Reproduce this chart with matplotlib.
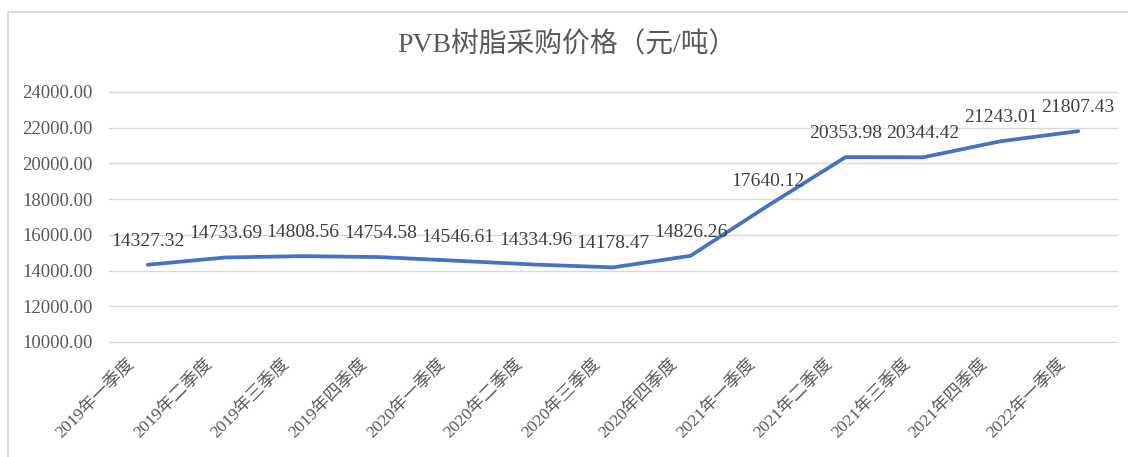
import matplotlib
matplotlib.use('Agg')
import matplotlib.pyplot as plt
import matplotlib.transforms as mtransforms
from matplotlib.patches import Rectangle

plt.rcParams['font.family'] = ['Liberation Serif', 'Noto Sans CJK SC']

quarters = ['2019年一季度', '2019年二季度', '2019年三季度', '2019年四季度',
            '2020年一季度', '2020年二季度', '2020年三季度', '2020年四季度',
            '2021年一季度', '2021年二季度', '2021年三季度', '2021年四季度',
            '2022年一季度']
prices = [14327.32, 14733.69, 14808.56, 14754.58, 14546.61, 14334.96, 14178.47,
          14826.26, 17640.12, 20353.98, 20344.42, 21243.01, 21807.43]
yticks = [10000, 12000, 14000, 16000, 18000, 20000, 22000, 24000]

W, H = 1128, 457
fig = plt.figure(figsize=(W / 100, H / 100), dpi=100)
ax = fig.add_axes([109 / W, 1 - 342 / H, (1117 - 109) / W, (342 - 92) / H])

# chart border (only top/left visible in the crop)
fig.patches.append(Rectangle((8 / W, -0.1), 1.2, 1.1 - 12 / H,
                             transform=fig.transFigure, fill=False,
                             edgecolor='#d4d4d4', linewidth=1.2))

xs = list(range(len(quarters)))
ax.plot(xs, prices, color='#4472C4', linewidth=2.7, solid_joinstyle='round',
        solid_capstyle='round', zorder=3)

for x, v in zip(xs, prices):
    ax.annotate(f'{v:.2f}', (x, v), xytext=(0, 17), textcoords='offset points',
                ha='center', va='center', fontsize=14, color='#404040', zorder=4)

ax.set_xlim(-0.5, len(quarters) - 0.5)
ax.set_ylim(10000, 24000)
ax.set_yticks(yticks)
ax.set_yticklabels([f'{t:.2f}' for t in yticks], fontsize=13.5, color='#595959')
ax.set_xticks(xs)
ax.set_xticklabels(quarters, rotation=45, ha='right', va='center',
                   rotation_mode='anchor', fontsize=12.5, color='#595959')
ax.tick_params(axis='both', length=0)
ax.tick_params(axis='x', pad=12)
ax.tick_params(axis='y', pad=12)
shift = mtransforms.ScaledTranslation(-15 / 100, -3 / 100, fig.dpi_scale_trans)
for lab in ax.get_xticklabels():
    lab.set_transform(lab.get_transform() + shift)
ax.grid(axis='y', color='#d9d9d9', linewidth=1)
for gl in ax.get_ygridlines():
    gl.set_clip_on(False)
ax.set_axisbelow(True)
for s in ax.spines.values():
    s.set_visible(False)

fig.text(567 / W, 1 - 45 / H, 'PVB树脂采购价格（元/吨）', ha='center', va='center',
         fontsize=20, color='#595959')

fig.savefig('out.png', dpi=100)
